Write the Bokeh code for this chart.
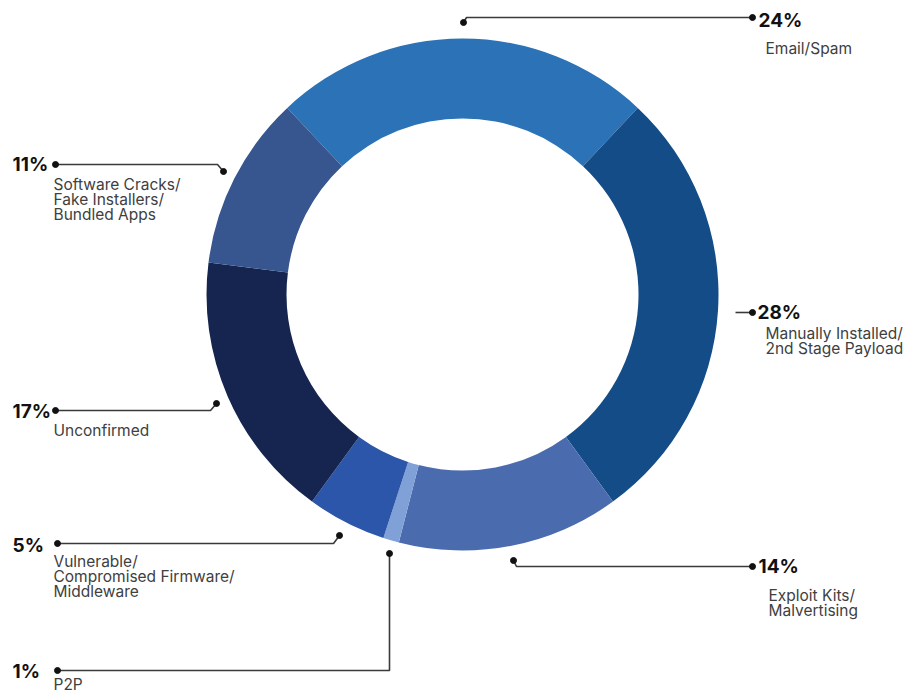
import math
from bokeh.plotting import figure
from bokeh.models import Range1d, ColumnDataSource
from bokeh.core.properties import value
from bokeh.embed import file_html
from bokeh.resources import INLINE

# ---- data ----
categories = ["Email/Spam", "Manually Installed/\n2nd Stage Payload", "Exploit Kits/\nMalvertising",
              "P2P", "Vulnerable/\nCompromised Firmware/\nMiddleware", "Unconfirmed",
              "Software Cracks/\nFake Installers/\nBundled Apps"]
values = [24, 28, 14, 1, 5, 17, 11]
pct_labels = ["24%", "28%", "14%", "1%", "5%", "17%", "11%"]
colors = ["#2b72b6", "#144c87", "#4a6caf", "#80a1d8", "#2c56aa", "#15254f", "#37558f"]

W, H = 912, 693
def Y(s):  # screen y -> data y
    return H - s

p = figure(width=W, height=H, output_backend="svg", toolbar_location=None,
           x_range=Range1d(0, W), y_range=Range1d(0, H), min_border=0)
p.axis.visible = False
p.grid.visible = False
p.outline_line_color = None
p.background_fill_color = "white"

cx, cy = 462, Y(294)
total = sum(values)
cw = -values[0] / total * 360 / 2
starts, ends = [], []
for v in values:
    a0 = cw
    a1 = cw + v / total * 360
    starts.append(math.radians(90 - a0))
    ends.append(math.radians(90 - a1))
    cw = a1

src = ColumnDataSource(dict(start=starts, end=ends, color=colors))
p.annular_wedge(x=cx, y=cy, inner_radius=176, outer_radius=256, start_angle="start",
                end_angle="end", direction="clock", color="color", line_color=None, source=src)

# leader lines (screen coords), order matches categories
leaders = [
    [(463, 22), (466, 17), (752, 17)],
    [(735, 312), (752, 312)],
    [(513, 560), (516, 566), (752, 566)],
    [(389, 553), (389, 670), (57, 670)],
    [(339, 535), (333, 543), (57, 543)],
    [(216, 403), (210, 410), (55, 410)],
    [(223, 171), (217, 164), (55, 164)],
]
for pts in leaders:
    xs = [q[0] for q in pts]
    ys = [Y(q[1]) for q in pts]
    p.line(xs, ys, line_color="#3a3a3a", line_width=1.6)
    dots = [pts[-1]] if len(pts) == 2 else [pts[0], pts[-1]]
    p.scatter([d[0] for d in dots], [Y(d[1]) for d in dots], size=6, color="#111111")

# label positions: (pct x, pct y, label x, first label line y)
lab_pos = [
    (758, 20, 765, 48),
    (757, 312, 765, 333),
    (758, 566, 768, 595),
    (12, 671, 53, 684),
    (12, 545, 53, 561),
    (12, 411, 53, 430),
    (12, 164, 53, 184),
]
font = value("Inter")
for i, (px, py, lx, ly) in enumerate(lab_pos):
    p.text([px], [Y(py)], text=[pct_labels[i]], text_font=font, text_font_size="19px",
           text_font_style="bold", text_color="#111111", text_baseline="middle", text_align="left")
    for j, line in enumerate(categories[i].split("\n")):
        p.text([lx], [Y(ly + 15 * j)], text=[line], text_font=font, text_font_size="15.5px",
               text_color="#404040", text_baseline="middle", text_align="left")

open("out.html", "w").write(file_html(p, INLINE))
